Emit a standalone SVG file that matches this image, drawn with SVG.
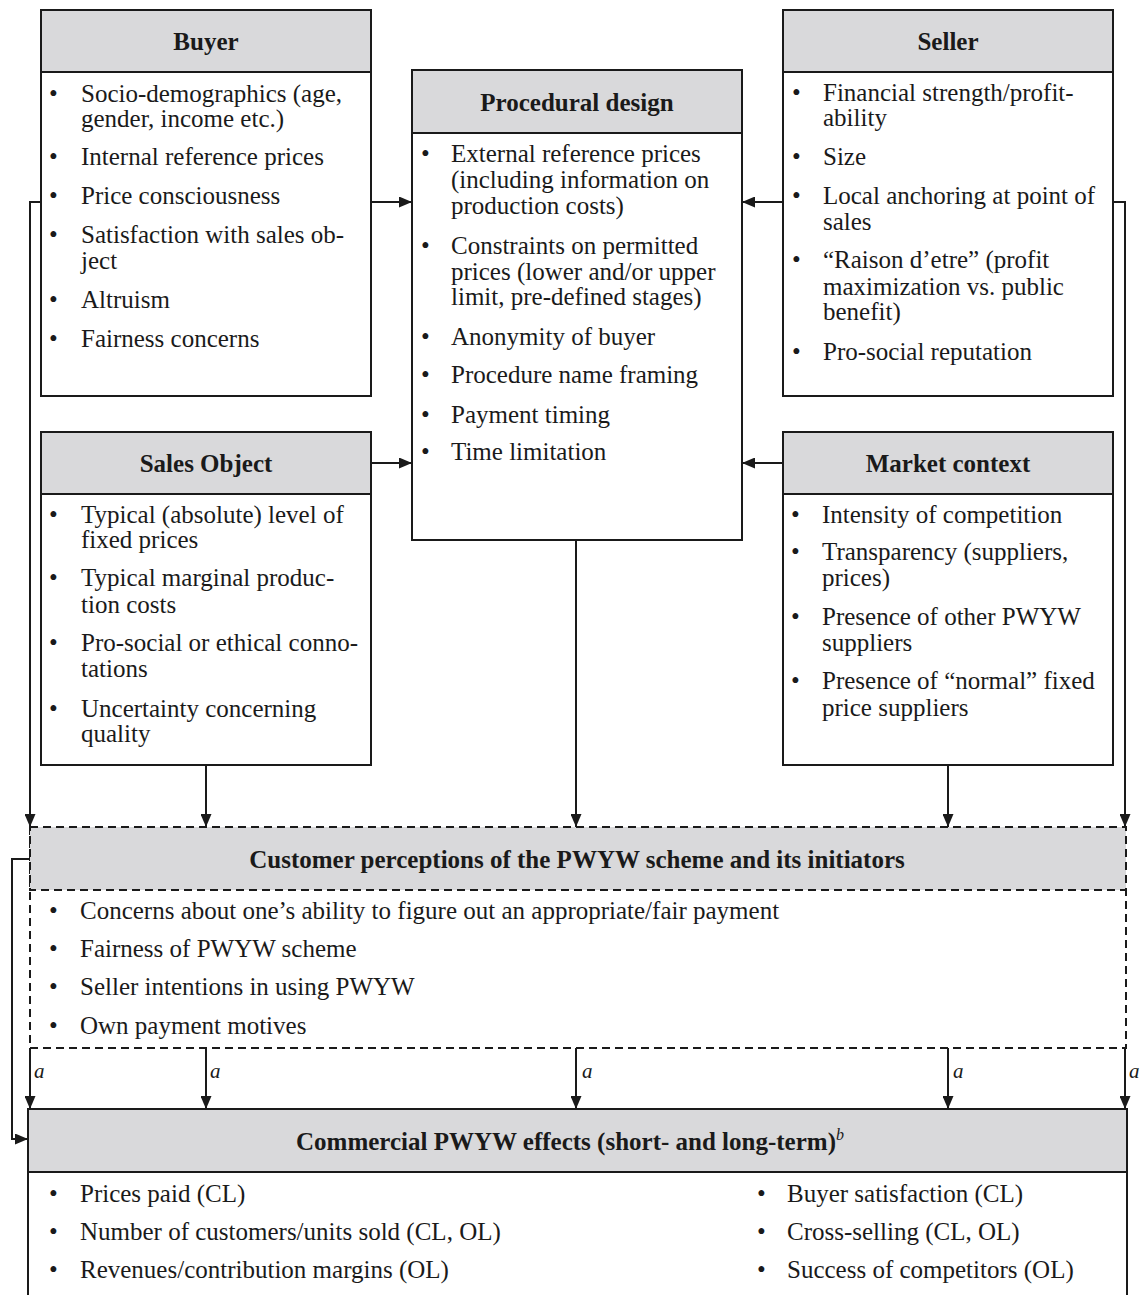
<svg xmlns="http://www.w3.org/2000/svg" width="1140" height="1295" viewBox="0 0 1140 1295">
<defs>
<marker id="arr" markerUnits="userSpaceOnUse" markerWidth="13" markerHeight="11" refX="13" refY="5.5" orient="auto">
<path d="M0,0 L13,5.5 L0,11 z" fill="#1a1a1a"/>
</marker>
</defs>
<style>
.box{fill:#fff;stroke:#1a1a1a;stroke-width:2}
.hdr{fill:#d9d9db;stroke:#1a1a1a;stroke-width:2}
.dbox{fill:#fff;stroke:#1a1a1a;stroke-width:2;stroke-dasharray:8 5}
.dhdr{fill:#d9d9db;stroke:#1a1a1a;stroke-width:2;stroke-dasharray:8 5}
.ht{font-family:"Liberation Serif","Times New Roman",serif;font-weight:bold;font-size:25px;fill:#1a1a1a;text-anchor:middle}
.t{font-family:"Liberation Serif","Times New Roman",serif;font-size:25px;fill:#1a1a1a}
.a{font-family:"Liberation Serif","Times New Roman",serif;font-size:21px;font-style:italic;fill:#1a1a1a}
.c{fill:none;stroke:#1a1a1a;stroke-width:2}
.ca{fill:none;stroke:#1a1a1a;stroke-width:2;marker-end:url(#arr)}
</style>
<rect width="1140" height="1295" fill="#fff"/>

<g id="connectors">
<path class="ca" d="M41,202 H30 V827"/>
<path class="ca" d="M371,202 H412"/>
<path class="ca" d="M783,202 H742"/>
<path class="ca" d="M1113,202 H1125 V827"/>
<path class="ca" d="M371,463 H412"/>
<path class="ca" d="M783,463 H742"/>
<path class="ca" d="M206,765 V827"/>
<path class="ca" d="M576,540 V827"/>
<path class="ca" d="M948,765 V827"/>
<path class="ca" d="M30,1048 V1109"/>
<path class="ca" d="M206,1048 V1109"/>
<path class="ca" d="M576,1048 V1109"/>
<path class="ca" d="M948,1048 V1109"/>
<path class="ca" d="M1125,1048 V1109"/>
<path class="ca" d="M29,859 H12 V1139 H28"/>
<text class="a" x="34" y="1078">a</text>
<text class="a" x="210" y="1078">a</text>
<text class="a" x="582" y="1078">a</text>
<text class="a" x="953" y="1078">a</text>
<text class="a" x="1129" y="1078">a</text>
</g>

<g id="buyer">
<rect class="box" x="41" y="10" width="330" height="386"/>
<rect class="hdr" x="41" y="10" width="330" height="62"/>
<text class="ht" x="206" y="50">Buyer</text>
<g class="t">
<text x="49" y="102">•</text><text x="81" y="102">Socio-demographics (age,</text><text x="81" y="127">gender, income etc.)</text>
<text x="49" y="165">•</text><text x="81" y="165">Internal reference prices</text>
<text x="49" y="204">•</text><text x="81" y="204">Price consciousness</text>
<text x="49" y="243">•</text><text x="81" y="243">Satisfaction with sales ob-</text><text x="81" y="269">ject</text>
<text x="49" y="308">•</text><text x="81" y="308">Altruism</text>
<text x="49" y="347">•</text><text x="81" y="347">Fairness concerns</text>
</g>
</g>

<g id="procedural-design">
<rect class="box" x="412" y="70" width="330" height="470"/>
<rect class="hdr" x="412" y="70" width="330" height="63"/>
<text class="ht" x="577" y="111">Procedural design</text>
<g class="t">
<text x="421" y="162">•</text><text x="451" y="162">External reference prices</text><text x="451" y="188">(including information on</text><text x="451" y="214">production costs)</text>
<text x="421" y="254">•</text><text x="451" y="254">Constraints on permitted</text><text x="451" y="280">prices (lower and/or upper</text><text x="451" y="305">limit, pre-defined stages)</text>
<text x="421" y="345">•</text><text x="451" y="345">Anonymity of buyer</text>
<text x="421" y="383">•</text><text x="451" y="383">Procedure name framing</text>
<text x="421" y="423">•</text><text x="451" y="423">Payment timing</text>
<text x="421" y="460">•</text><text x="451" y="460">Time limitation</text>
</g>
</g>

<g id="seller">
<rect class="box" x="783" y="10" width="330" height="386"/>
<rect class="hdr" x="783" y="10" width="330" height="62"/>
<text class="ht" x="948" y="50">Seller</text>
<g class="t">
<text x="792" y="101">•</text><text x="823" y="101">Financial strength/profit-</text><text x="823" y="126">ability</text>
<text x="792" y="165">•</text><text x="823" y="165">Size</text>
<text x="792" y="204">•</text><text x="823" y="204">Local anchoring at point of</text><text x="823" y="230">sales</text>
<text x="792" y="268">•</text><text x="823" y="268">“Raison d’etre” (profit</text><text x="823" y="295">maximization vs. public</text><text x="823" y="320">benefit)</text>
<text x="792" y="360">•</text><text x="823" y="360">Pro-social reputation</text>
</g>
</g>

<g id="sales-object">
<rect class="box" x="41" y="432" width="330" height="333"/>
<rect class="hdr" x="41" y="432" width="330" height="62"/>
<text class="ht" x="206" y="472">Sales Object</text>
<g class="t">
<text x="49" y="523">•</text><text x="81" y="523">Typical (absolute) level of</text><text x="81" y="548">fixed prices</text>
<text x="49" y="586">•</text><text x="81" y="586">Typical marginal produc-</text><text x="81" y="613">tion costs</text>
<text x="49" y="651">•</text><text x="81" y="651">Pro-social or ethical conno-</text><text x="81" y="677">tations</text>
<text x="49" y="717">•</text><text x="81" y="717">Uncertainty concerning</text><text x="81" y="742">quality</text>
</g>
</g>

<g id="market-context">
<rect class="box" x="783" y="432" width="330" height="333"/>
<rect class="hdr" x="783" y="432" width="330" height="62"/>
<text class="ht" x="948" y="472">Market context</text>
<g class="t">
<text x="791" y="523">•</text><text x="822" y="523">Intensity of competition</text>
<text x="791" y="560">•</text><text x="822" y="560">Transparency (suppliers,</text><text x="822" y="586">prices)</text>
<text x="791" y="625">•</text><text x="822" y="625">Presence of other PWYW</text><text x="822" y="651">suppliers</text>
<text x="791" y="689">•</text><text x="822" y="689">Presence of “normal” fixed</text><text x="822" y="716">price suppliers</text>
</g>
</g>

<g id="customer-perceptions">
<rect class="dbox" x="30" y="827" width="1096" height="221"/>
<rect class="dhdr" x="30" y="827" width="1096" height="63"/>
<text class="ht" x="577" y="868">Customer perceptions of the PWYW scheme and its initiators</text>
<g class="t">
<text x="49" y="919">•</text><text x="80" y="919">Concerns about one’s ability to figure out an appropriate/fair payment</text>
<text x="49" y="957">•</text><text x="80" y="957">Fairness of PWYW scheme</text>
<text x="49" y="995">•</text><text x="80" y="995">Seller intentions in using PWYW</text>
<text x="49" y="1034">•</text><text x="80" y="1034">Own payment motives</text>
</g>
</g>

<g id="commercial-effects">
<rect class="box" x="28" y="1109" width="1099" height="200"/>
<rect class="hdr" x="28" y="1109" width="1099" height="63"/>
<text class="ht" x="570" y="1150">Commercial PWYW effects (short- and long-term)<tspan font-style="italic" font-weight="normal" font-size="16px" dy="-10">b</tspan></text>
<g class="t">
<text x="49" y="1202">•</text><text x="80" y="1202">Prices paid (CL)</text>
<text x="49" y="1240">•</text><text x="80" y="1240">Number of customers/units sold (CL, OL)</text>
<text x="49" y="1278">•</text><text x="80" y="1278">Revenues/contribution margins (OL)</text>
<text x="757" y="1202">•</text><text x="787" y="1202">Buyer satisfaction (CL)</text>
<text x="757" y="1240">•</text><text x="787" y="1240">Cross-selling (CL, OL)</text>
<text x="757" y="1278">•</text><text x="787" y="1278">Success of competitors (OL)</text>
</g>
</g>
</svg>
